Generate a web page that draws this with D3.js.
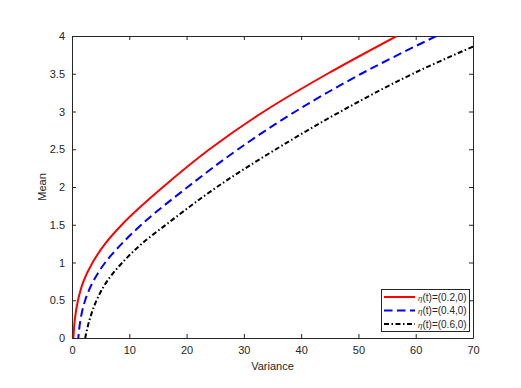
<!DOCTYPE html>
<html>
<head>
<meta charset="utf-8">
<script src="https://cdn.jsdelivr.net/npm/d3@7"></script>
<style>
  body { margin: 0; background: #fff; }
  text { font-family: "Liberation Sans", Arial, sans-serif; fill: #262626; }
</style>
</head>
<body>
<svg id="chart" width="521" height="388"></svg>
<script>
// values: [mean, variance]
var redMeanVar = [[0,0.25],[0.25,0.5],[0.5,1.05],[0.75,2.0],[1,3.6],[1.25,5.8],[1.5,8.7],[2,15.9],[2.5,24.0],[3,33.5],[3.5,44.6],[4,56.7]];
var blueMeanVar = [[0,1.1],[0.25,1.5],[0.5,2.3],[0.75,3.7],[1,5.8],[1.25,8.7],[1.5,12.1],[2,20.2],[2.5,29],[3,39],[3.5,50.5],[4,63.6]];
var blackMeanVar = [[0,2.3],[0.25,3.1],[0.5,4.3],[0.75,6.1],[1,8.8],[1.25,12.2],[1.5,16.4],[2,25.3],[2.5,35.6],[3,46.9],[3.5,59.5],[3.86,70]];
var seriesNames = ["(0.2,0)", "(0.4,0)", "(0.6,0)"];
var xTicks = [0,10,20,30,40,50,60,70];
var yTicks = [0,0.5,1,1.5,2,2.5,3,3.5,4];

var svg = d3.select("#chart");
var plotL = 72, plotR = 473, plotT = 36, plotB = 338;

var x = d3.scaleLinear().domain([0,70]).range([plotL,plotR]);
var y = d3.scaleLinear().domain([0,4]).range([plotB,plotT]);

var series = [
  {data: redMeanVar, color: "#ff0000", dash: null},
  {data: blueMeanVar, color: "#0000ff", dash: "8.5,4.5"},
  {data: blackMeanVar, color: "#000000", dash: "5,2.5,1.5,2.5"}
];

svg.append("clipPath").attr("id","plotclip")
  .append("rect").attr("x",plotL).attr("y",plotT).attr("width",plotR-plotL).attr("height",plotB-plotT);

// axes (MATLAB style, ticks inside, box on)
var gx = svg.append("g").attr("transform","translate(0,"+plotB+")")
  .call(d3.axisBottom(x).tickValues(xTicks).tickSizeInner(-4).tickSizeOuter(0).tickPadding(8));
var gxTop = svg.append("g").attr("transform","translate(0,"+plotT+")")
  .call(d3.axisTop(x).tickValues(xTicks).tickSizeInner(-4).tickSizeOuter(0).tickFormat(""));
var gy = svg.append("g").attr("transform","translate("+plotL+",0)")
  .call(d3.axisLeft(y).tickValues(yTicks).tickSizeInner(-4).tickSizeOuter(0).tickPadding(7).tickFormat(d3.format("")));
var gyRight = svg.append("g").attr("transform","translate("+plotR+",0)")
  .call(d3.axisRight(y).tickValues(yTicks).tickSizeInner(-4).tickSizeOuter(0).tickFormat(""));

[gx,gxTop,gy,gyRight].forEach(function(g){
  g.selectAll("path.domain").attr("stroke","#262626").attr("stroke-width",1);
  g.selectAll(".tick line").attr("stroke","#262626");
  g.selectAll(".tick text").style("font-size","11px").attr("fill","#262626");
});

var line = d3.line()
  .x(function(d){return x(d[1]);})
  .y(function(d){return y(d[0]);})
  .curve(d3.curveMonotoneY);

var plot = svg.append("g").attr("clip-path","url(#plotclip)");
series.forEach(function(s){
  plot.append("path")
    .attr("d", line(s.data.slice().reverse()))
    .attr("fill","none")
    .attr("stroke",s.color)
    .attr("stroke-width",2)
    .attr("stroke-dasharray",s.dash);
});

svg.append("text").attr("x",(plotL+plotR)/2).attr("y",370)
  .attr("text-anchor","middle").style("font-size","11px").text("Variance");
svg.append("text").attr("transform","translate(46,"+((plotT+plotB)/2)+") rotate(-90)")
  .attr("text-anchor","middle").style("font-size","11px").text("Mean");

// legend
var legend = svg.append("g");
legend.append("rect").attr("x",381.5).attr("y",289.5).attr("width",88).attr("height",42)
  .attr("fill","#fff").attr("stroke","#262626").attr("stroke-width",1);
series.forEach(function(s,i){
  var ly = 297 + i*13.5;
  legend.append("line").attr("x1",384).attr("x2",415).attr("y1",ly).attr("y2",ly)
    .attr("stroke",s.color).attr("stroke-width",2).attr("stroke-dasharray",s.dash);
  var t = legend.append("text").attr("x",418).attr("y",ly+3.5).style("font-size","10px");
  t.append("tspan").style("font-size","8px").attr("font-style","italic").text("η");
  t.append("tspan").text("(t)=" + seriesNames[i]);
});
</script>
</body>
</html>
